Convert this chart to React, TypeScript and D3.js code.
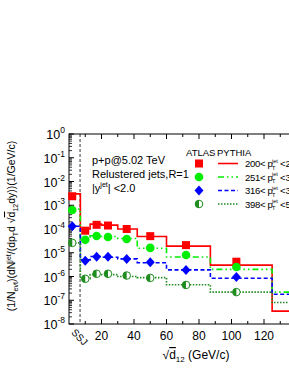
import React from "react";
import * as d3 from "d3";

// bins of sqrt(d12) used by the PYTHIA histograms
const binEdges = [0, 7, 13, 20, 30, 42, 60, 87, 125, 140];
const pythia200 = [3.0e-3, 1.0e-4, 1.6e-4, 1.45e-4, 1.0e-4, 4.8e-5, 1.9e-5, 3.0e-6, 3.5e-8];
const pythia251 = [7e-4, 3.5e-5, 5.2e-5, 4.8e-5, 4.0e-5, 1.55e-5, 6.6e-6, 2.0e-6, 2.2e-7];
const pythia316 = [1.3e-4, 5e-6, 7e-6, 6.5e-6, 5.5e-6, 3.8e-6, 1.9e-6, 8.5e-7, 1.8e-7];
const pythia398 = [2.6e-5, 8e-7, 1.2e-6, 1.2e-6, 1.0e-6, 9e-7, 4.5e-7, 2.2e-7, 8e-8];

// ATLAS points
const atlasX = [2, 10, 17, 24, 35.5, 50, 72, 103];
const atlas200 = [2.4e-3, 8.5e-5, 1.5e-4, 1.4e-4, 1.0e-4, 5.0e-5, 2.1e-5, 4.2e-6];
const atlas251 = [6.3e-4, 3.5e-5, 5.1e-5, 4.6e-5, 3.8e-5, 1.6e-5, 8e-6, 2.5e-6];
const atlas316 = [1.3e-4, 4.6e-6, 6.8e-6, 6.8e-6, 5.5e-6, 4e-6, 1.9e-6, 9.5e-7];
const atlas398 = [2.6e-5, 8e-7, 1.3e-6, 1.3e-6, 1.1e-6, 8.7e-7, 4.4e-7, 2.2e-7];

const ptLow = ["200", "251", "316", "398"];
const ptHigh = ["251", "316", "398", "501"];
const yExponents = [0, -1, -2, -3, -4, -5, -6, -7, -8];
const xTicks = [20, 40, 60, 80, 100, 120];
const ssjCut = 6.8;

const series = [
  { pythia: pythia200, atlas: atlas200, color: "#ff0000", dash: "", marker: "square" },
  { pythia: pythia251, atlas: atlas251, color: "#00ee00", dash: "6,3,1.5,3,1.5,3", marker: "circle" },
  { pythia: pythia316, atlas: atlas316, color: "#0000ff", dash: "4,2.5", marker: "diamond" },
  { pythia: pythia398, atlas: atlas398, color: "#1e8c1e", dash: "1.5,1.5", marker: "half" },
];

const font = "Liberation Sans, Arial, sans-serif";

function Marker({ kind, color, cx, cy }) {
  if (kind === "square") return <rect x={cx - 4} y={cy - 4} width={8} height={8} fill={color} />;
  if (kind === "circle") return <circle cx={cx} cy={cy} r={4.3} fill={color} />;
  if (kind === "diamond") return <path d={`M${cx},${cy - 5}L${cx + 4.5},${cy}L${cx},${cy + 5}L${cx - 4.5},${cy}Z`} fill={color} />;
  return (
    <g>
      <circle cx={cx} cy={cy} r={3.8} fill="#ffffff" stroke={color} strokeWidth={1} />
      <path d={`M${cx},${cy - 3.8}A3.8,3.8 0 0 0 ${cx},${cy + 3.8}Z`} fill={color} />
    </g>
  );
}

export default function App() {
  const W = 289, H = 374;
  const x = d3.scaleLinear().domain([0, 140]).range([69, 296.5]);
  const y = d3.scaleLog().domain([1e-8, 1]).range([324, 134]);
  const [x0, x1] = x.range();
  const [yb, yt] = y.range();

  const stepLine = d3.line().x(d => x(d[0])).y(d => y(d[1])).curve(d3.curveStepAfter);

  const minorY = [];
  for (let e = -8; e < 0; e++) for (let k = 2; k <= 9; k++) minorY.push(k * Math.pow(10, e));
  const minorX = d3.range(10, 140, 20);

  const legendY = [163.5, 177, 190.5, 204];

  return (
    <svg width={W} height={H} style={{ position: "absolute", left: 0, top: 0, background: "#fff" }} fontFamily={font}>
      {/* frame */}
      <rect x={x0} y={yt} width={x1 - x0} height={yb - yt} fill="none" stroke="#000" strokeWidth={1} />

      {/* y ticks */}
      {yExponents.map(e => (
        <g key={e}>
          <line x1={x0} x2={x0 + 5} y1={y(Math.pow(10, e))} y2={y(Math.pow(10, e))} stroke="#000" />
          <text x={x0 - 4} y={y(Math.pow(10, e)) + 5} fontSize={12.5} textAnchor="end">
            10<tspan fontSize={8.5} dy={-6}>{e}</tspan>
          </text>
        </g>
      ))}
      {minorY.map((v, i) => (
        <line key={i} x1={x0} x2={x0 + 3} y1={y(v)} y2={y(v)} stroke="#000" strokeWidth={0.8} />
      ))}

      {/* x ticks */}
      {xTicks.map(t => (
        <g key={t}>
          <line x1={x(t)} x2={x(t)} y1={yb} y2={yb - 5} stroke="#000" />
          <line x1={x(t)} x2={x(t)} y1={yt} y2={yt + 5} stroke="#000" />
          <text x={x(t)} y={yb + 16} fontSize={12} textAnchor="middle">{t}</text>
        </g>
      ))}
      {minorX.map(t => (
        <g key={t}>
          <line x1={x(t)} x2={x(t)} y1={yb} y2={yb - 3} stroke="#000" />
          <line x1={x(t)} x2={x(t)} y1={yt} y2={yt + 3} stroke="#000" />
        </g>
      ))}

      {/* SSJ cut */}
      <line x1={x(ssjCut)} x2={x(ssjCut)} y1={yt} y2={yb} stroke="#000" strokeWidth={0.8} strokeDasharray="3,2" />
      <text transform={`translate(${x(1)},${yb + 9}) rotate(45)`} fontSize={10}>SSJ</text>

      {/* PYTHIA histograms */}
      {series.map((s, i) => {
        const pts = s.pythia.map((v, j) => [binEdges[j], v]);
        pts.push([binEdges[binEdges.length - 1], s.pythia[s.pythia.length - 1]]);
        return (
          <path key={i} d={stepLine(pts)} fill="none" stroke={s.color} strokeWidth={1.6} strokeDasharray={s.dash} />
        );
      })}

      {/* ATLAS points */}
      {series.map((s, i) =>
        s.atlas.map((v, j) => <Marker key={`${i}-${j}`} kind={s.marker} color={s.color} cx={x(atlasX[j])} cy={y(v)} />)
      )}

      {/* annotation */}
      <text x={92} y={164} fontSize={11}>p+p@5.02 TeV</text>
      <text x={92} y={178} fontSize={11}>Relustered jets,R=1</text>
      <text x={92} y={192} fontSize={11}>
        |y<tspan fontSize={7} dy={-5}>jet</tspan><tspan dy={5}>|</tspan> &lt;2.0
      </text>

      {/* legend */}
      <text x={186} y={155.5} fontSize={9.5}>ATLAS</text>
      <text x={217} y={155.5} fontSize={9.5}>PYTHIA</text>
      {series.map((s, i) => (
        <g key={i}>
          <Marker kind={s.marker} color={s.color} cx={199} cy={legendY[i]} />
          <line x1={218} x2={238} y1={legendY[i]} y2={legendY[i]} stroke={s.color} strokeWidth={1.6} strokeDasharray={s.dash} />
          <text x={245} y={legendY[i] + 3.5} fontSize={9.5} letterSpacing={-0.3}>{ptLow[i]}&lt; p</text>
          <text x={272} y={legendY[i] - 1} fontSize={5.5}>jet</text>
          <text x={272} y={legendY[i] + 6} fontSize={5.5}>T</text>
          <text x={280} y={legendY[i] + 3.5} fontSize={9.5}>&lt;{ptHigh[i]}</text>
        </g>
      ))}

      {/* axis titles */}
      <text x={196} y={359} fontSize={12} textAnchor="middle">
        √<tspan textDecoration="overline">d</tspan><tspan fontSize={8} dy={3}>12</tspan><tspan dy={-3}> (GeV/c)</tspan>
      </text>
      <text transform="translate(15,226) rotate(-90)" fontSize={10.5} textAnchor="middle">
        (1/N<tspan fontSize={7} dy={2.5}>evt</tspan><tspan dy={-2.5}>)(dN</tspan><tspan fontSize={7} dy={-4}>jet</tspan><tspan dy={4}>/(dp</tspan><tspan fontSize={7} dy={2.5}>T</tspan><tspan dy={-2.5}>d √</tspan><tspan textDecoration="overline">d</tspan><tspan fontSize={7} dy={2.5}>12</tspan><tspan dy={-2.5}>dy))(1/GeV/c)</tspan>
      </text>
    </svg>
  );
}
